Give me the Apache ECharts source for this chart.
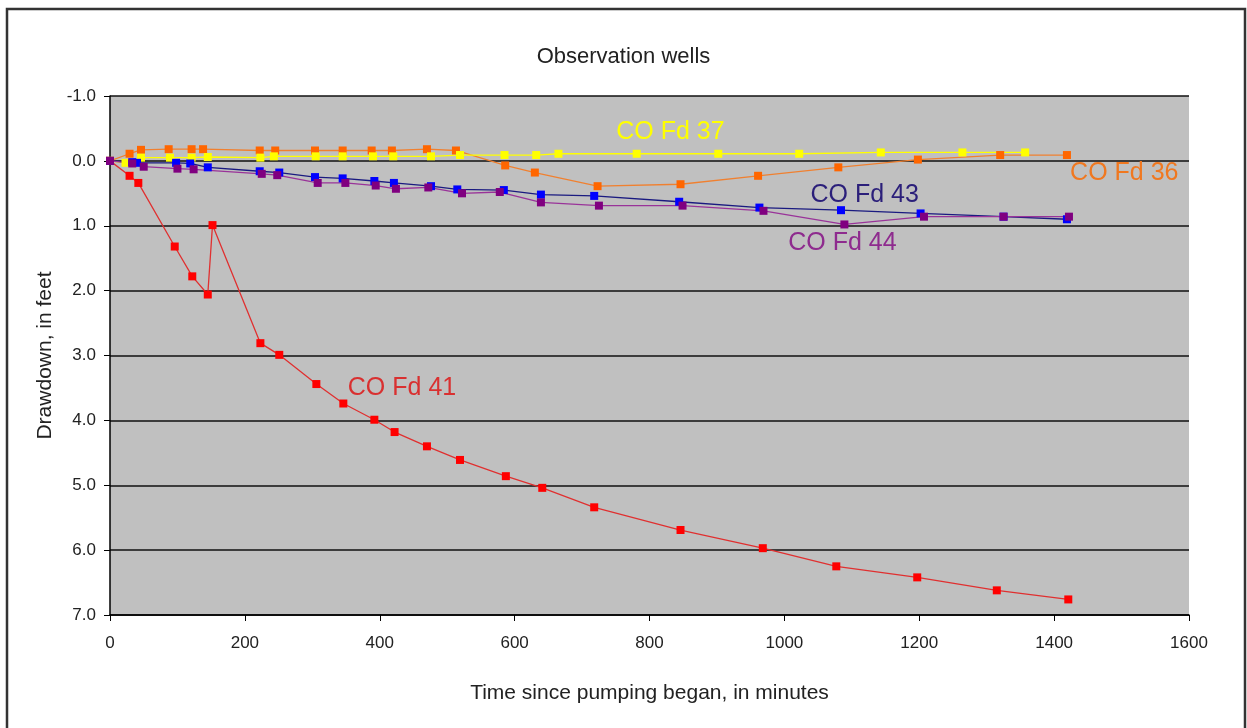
<!DOCTYPE html>
<html>
<head>
<meta charset="utf-8">
<script src="https://cdn.jsdelivr.net/npm/echarts@6/dist/echarts.min.js"></script>
<style>
  html, body { margin: 0; padding: 0; background: #fff; }
  #chart { width: 1247px; height: 728px; }
</style>
</head>
<body>
<div id="chart"></div>
<script>
// data: [minutes, drawdown ft]
var fd36 = [[0, 0], [29, -0.11], [46, -0.17], [87, -0.18], [121, -0.18], [138, -0.18], [222, -0.16], [245, -0.16], [304, -0.16], [345, -0.16], [388, -0.16], [418, -0.16], [470, -0.18], [513, -0.16], [586, 0.07], [630, 0.18], [723, 0.39], [846, 0.36], [961, 0.23], [1080, 0.1], [1198, -0.02], [1320, -0.09], [1419, -0.09]];
var fd37 = [[0, 0], [23, 0.03], [46, -0.05], [89, -0.05], [121, -0.05], [145, -0.06], [223, -0.05], [243, -0.07], [305, -0.07], [345, -0.07], [390, -0.07], [420, -0.07], [476, -0.07], [519, -0.09], [585, -0.09], [632, -0.09], [665, -0.11], [781, -0.11], [902, -0.11], [1022, -0.11], [1143, -0.13], [1264, -0.13], [1357, -0.13]];
var fd43 = [[0, 0], [33, 0.02], [40, 0.03], [98, 0.03], [119, 0.04], [145, 0.1], [222, 0.16], [251, 0.18], [304, 0.25], [345, 0.27], [392, 0.31], [421, 0.34], [476, 0.39], [515, 0.44], [584, 0.45], [639, 0.52], [718, 0.54], [844, 0.63], [963, 0.72], [1084, 0.76], [1202, 0.81], [1325, 0.86], [1419, 0.9]];
var fd44 = [[0, 0], [33, 0.04], [50, 0.09], [100, 0.12], [124, 0.13], [225, 0.2], [248, 0.22], [308, 0.34], [349, 0.34], [394, 0.38], [424, 0.43], [472, 0.41], [522, 0.5], [578, 0.48], [639, 0.64], [725, 0.69], [849, 0.69], [969, 0.77], [1089, 0.98], [1207, 0.86], [1325, 0.86], [1422, 0.86]];
var fd41 = [[0, 0], [29, 0.23], [42, 0.34], [96, 1.32], [122, 1.78], [145, 2.06], [152, 0.99], [223, 2.81], [251, 2.99], [306, 3.44], [346, 3.74], [392, 3.99], [422, 4.18], [470, 4.4], [519, 4.61], [587, 4.86], [641, 5.04], [718, 5.34], [846, 5.69], [968, 5.97], [1077, 6.25], [1197, 6.42], [1315, 6.62], [1421, 6.76]];

var myChart = echarts.init(document.getElementById("chart"));

function well(name, data, lineColor, markColor, labelColor, labelAt) {
  return {
    name: name,
    type: "line",
    data: data,
    symbol: "rect",
    symbolSize: 8,
    showSymbol: true,
    animation: false,
    lineStyle: { color: lineColor, width: 1.3 },
    itemStyle: { color: markColor },
    markPoint: {
      symbol: "circle",
      symbolSize: 1,
      itemStyle: { color: "rgba(0,0,0,0)" },
      label: {
        show: true,
        formatter: name,
        color: labelColor,
        fontSize: 25,
        fontFamily: "Liberation Sans",
        align: "center",
        verticalAlign: "middle"
      },
      data: [{ coord: labelAt }]
    }
  };
}

myChart.setOption({
  backgroundColor: "#fff",
  title: {
    text: "Observation wells",
    left: "center",
    top: 41,
    textStyle: { fontSize: 22, fontWeight: "normal", color: "#222", fontFamily: "Liberation Sans" }
  },
  grid: { left: 110, top: 96, right: 58, bottom: 113 },
  graphic: [{
    type: "rect",
    shape: { x: 7, y: 9, width: 1238, height: 730 },
    style: { fill: "none", stroke: "#333", lineWidth: 2.5 },
    silent: true
  }, {
    type: "rect",
    shape: { x: 110, y: 96, width: 1079, height: 520 },
    style: { fill: "#c0c0c0" },
    z: -1,
    silent: true
  }],
  xAxis: {
    type: "value",
    min: 0,
    max: 1600,
    interval: 200,
    name: "Time since pumping began, in minutes",
    nameLocation: "middle",
    nameGap: 68,
    nameTextStyle: { fontSize: 21, color: "#222", fontFamily: "Liberation Sans" },
    axisLine: { show: true, onZero: false, lineStyle: { color: "#000", width: 1.5 } },
    axisTick: { show: true, inside: false, length: 6, lineStyle: { color: "#000" } },
    axisLabel: {
      fontSize: 17, color: "#222", margin: 20, fontFamily: "Liberation Sans",
      formatter: function (v) { return String(v); }
    },
    splitLine: { show: false }
  },
  yAxis: {
    type: "value",
    inverse: true,
    min: -1,
    max: 7,
    interval: 1,
    name: "Drawdown, in feet",
    nameLocation: "middle",
    nameGap: 53,
    nameTextStyle: { fontSize: 21, color: "#222", fontFamily: "Liberation Sans" },
    axisLine: { show: true, onZero: false, lineStyle: { color: "#000", width: 1.5 } },
    axisTick: { show: true, length: 6, lineStyle: { color: "#000" } },
    axisLabel: {
      fontSize: 17, color: "#222", margin: 14, fontFamily: "Liberation Sans",
      formatter: function (v) { return v.toFixed(1); }
    },
    splitLine: { show: true, lineStyle: { color: "#111", width: 1.5 } }
  },
  series: [
    well("CO Fd 41", fd41, "#e03030", "#ff0000", "#d93030", [433, 3.5]),
    well("CO Fd 36", fd36, "#f08030", "#ff6600", "#f07820", [1504, 0.19]),
    well("CO Fd 37", fd37, "#ffff00", "#ffff00", "#ffff00", [831, -0.45]),
    well("CO Fd 43", fd43, "#1a1a80", "#0000ff", "#2b1f7a", [1119, 0.52]),
    well("CO Fd 44", fd44, "#993399", "#800080", "#8e2b8e", [1086, 1.27])
  ]
});
</script>
</body>
</html>
